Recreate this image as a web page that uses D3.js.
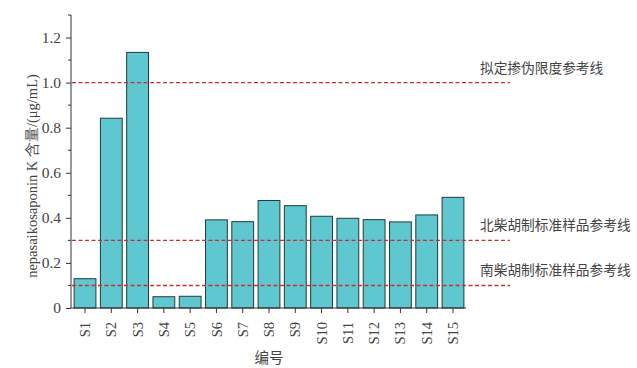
<!DOCTYPE html>
<html>
<head>
<meta charset="utf-8">
<script src="https://cdn.jsdelivr.net/npm/d3@7"></script>
<style>
  body { margin: 0; background: #fff; }
  svg { display: block; }
  svg text { fill: #444; }
</style>
</head>
<body>
<div id="chart"></div>
<script>
const samples = ['S1','S2','S3','S4','S5','S6','S7','S8','S9','S10','S11','S12','S13','S14','S15'];
const contents = [0.13, 0.842, 1.134, 0.05, 0.052, 0.391, 0.383, 0.477, 0.454, 0.407, 0.398, 0.392, 0.382, 0.413, 0.491];
const refValues = [1.0, 0.3, 0.1];
const refLabels = ['拟定掺伪限度参考线', '北柴胡制标准样品参考线', '南柴胡制标准样品参考线'];
const yMajorTicks = [0, 0.2, 0.4, 0.6, 0.8, 1.0, 1.2];
const yMinorTicks = [0.1, 0.3, 0.5, 0.7, 0.9, 1.1, 1.3];

const W = 637, H = 368;
const serif = '"Liberation Serif", "DejaVu Serif", serif';
const cjk = '"Noto Sans CJK SC", sans-serif';

const root = d3.select('#chart').append('svg')
  .attr('width', W).attr('height', H);

const x = d3.scaleBand()
  .domain(samples)
  .range([72, 466])
  .paddingInner(0.17)
  .paddingOuter(0.08);

const y = d3.scaleLinear()
  .domain([0, 1.3])
  .range([308, 15]);

// bars
root.append('g').selectAll('rect')
  .data(samples)
  .enter()
  .append('rect')
  .attr('x', d => x(d))
  .attr('y', (d, i) => y(contents[i]))
  .attr('width', x.bandwidth())
  .attr('height', (d, i) => y(0) - y(contents[i]))
  .attr('fill', '#5ec7cf')
  .attr('stroke', '#213b3e')
  .attr('stroke-width', 1);

// reference lines
const refG = root.append('g');
refValues.forEach((v, i) => {
  refG.append('line')
    .attr('x1', 72).attr('x2', 510)
    .attr('y1', y(v)).attr('y2', y(v))
    .attr('stroke', '#cc2f33')
    .attr('stroke-width', 1.4)
    .attr('stroke-dasharray', '4,2.5');
  refG.append('text')
    .attr('x', 480)
    .attr('y', y(v) - 10)
    .attr('font-family', cjk)
    .attr('font-size', 13.7)
    .attr('fill', '#444')
    .text(refLabels[i]);
});

// y axis
const yAxis = root.append('g')
  .attr('transform', 'translate(71,0)')
  .call(d3.axisLeft(y).tickValues(yMajorTicks).tickSize(5).tickPadding(5)
    .tickFormat(d => d === 0 ? '0' : d3.format('.1f')(d)));
yAxis.select('.domain').attr('d', `M0,${y(1.3)}V${y(0)}`).attr('stroke', '#333');
yAxis.selectAll('.tick line').attr('stroke', '#333');
yAxis.selectAll('.tick text')
  .attr('font-family', serif).attr('font-size', 15.5).attr('fill', '#444');
root.append('g')
  .attr('transform', 'translate(71,0)')
  .selectAll('line')
  .data(yMinorTicks)
  .enter()
  .append('line')
  .attr('x1', -3).attr('x2', 0)
  .attr('y1', d => y(d)).attr('y2', d => y(d))
  .attr('stroke', '#333');

// x axis
const xAxis = root.append('g')
  .attr('transform', `translate(0,${y(0)})`)
  .call(d3.axisBottom(x).tickSize(5).tickSizeOuter(0));
xAxis.select('.domain').attr('d', 'M71,0H466').attr('stroke', '#333');
xAxis.selectAll('.tick line').attr('stroke', '#333');
xAxis.selectAll('.tick text')
  .attr('font-family', serif).attr('font-size', 14.5).attr('fill', '#444')
  .attr('text-anchor', 'end')
  .attr('dy', '0.35em')
  .attr('transform', 'translate(0,14) rotate(-90)')
  .attr('x', 0).attr('y', 0);

// axis titles
root.append('text')
  .attr('x', 269).attr('y', 363)
  .attr('text-anchor', 'middle')
  .attr('font-family', cjk)
  .attr('font-size', 14.5)
  .text('编号');

root.append('text')
  .attr('transform', 'translate(32,176) rotate(-90)')
  .attr('text-anchor', 'middle')
  .attr('dy', '0.35em')
  .attr('font-size', 14.5)
  .attr('font-family', serif)
  .text('nepasaikosaponin K 含量/(μg/mL)');
</script>
</body>
</html>
